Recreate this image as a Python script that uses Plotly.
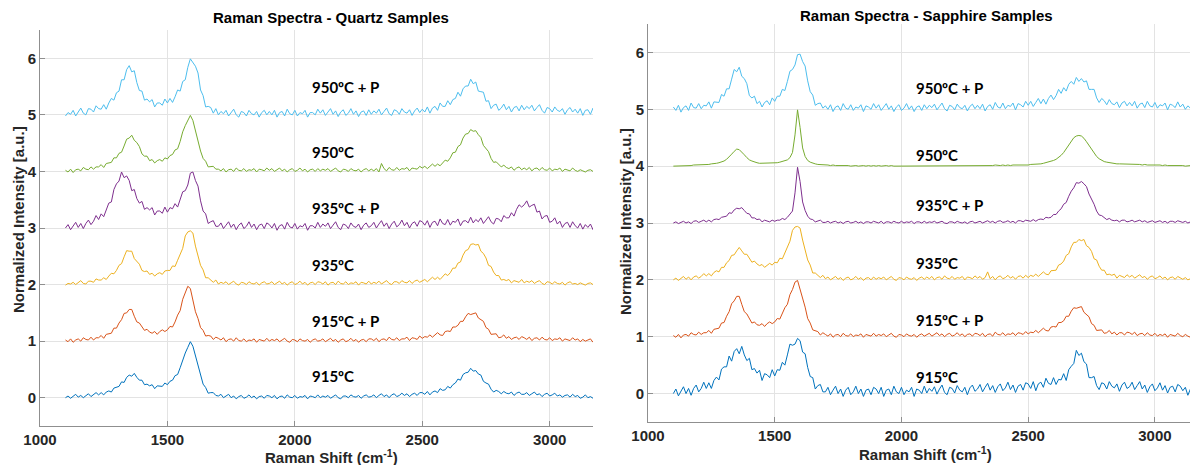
import plotly.graph_objects as go

# ---------------- data ----------------
raman_shift = [
    1100, 1110, 1120, 1130, 1140, 1150, 1160, 1170, 1180, 1190, 1200, 1210, 1220, 1230, 1240, 1250, 1260, 1270, 1280, 1290,
    1300, 1310, 1320, 1330, 1340, 1350, 1360, 1370, 1380, 1390, 1400, 1410, 1420, 1430, 1440, 1450, 1460, 1470, 1480, 1490,
    1500, 1510, 1520, 1530, 1540, 1550, 1560, 1570, 1580, 1590, 1600, 1610, 1620, 1630, 1640, 1650, 1660, 1670, 1680, 1690,
    1700, 1710, 1720, 1730, 1740, 1750, 1760, 1770, 1780, 1790, 1800, 1810, 1820, 1830, 1840, 1850, 1860, 1870, 1880, 1890,
    1900, 1910, 1920, 1930, 1940, 1950, 1960, 1970, 1980, 1990, 2000, 2010, 2020, 2030, 2040, 2050, 2060, 2070, 2080, 2090,
    2100, 2110, 2120, 2130, 2140, 2150, 2160, 2170, 2180, 2190, 2200, 2210, 2220, 2230, 2240, 2250, 2260, 2270, 2280, 2290,
    2300, 2310, 2320, 2330, 2340, 2350, 2360, 2370, 2380, 2390, 2400, 2410, 2420, 2430, 2440, 2450, 2460, 2470, 2480, 2490,
    2500, 2510, 2520, 2530, 2540, 2550, 2560, 2570, 2580, 2590, 2600, 2610, 2620, 2630, 2640, 2650, 2660, 2670, 2680, 2690,
    2700, 2710, 2720, 2730, 2740, 2750, 2760, 2770, 2780, 2790, 2800, 2810, 2820, 2830, 2840, 2850, 2860, 2870, 2880, 2890,
    2900, 2910, 2920, 2930, 2940, 2950, 2960, 2970, 2980, 2990, 3000, 3010, 3020, 3030, 3040, 3050, 3060, 3070, 3080, 3090,
    3100, 3110, 3120, 3130, 3140, 3150, 3160, 3170, 3180]

sample_labels = ["915ºC", "915ºC + P", "935ºC", "935ºC + P", "950ºC", "950ºC + P"]
offsets = [0, 1, 2, 3, 4, 5]

quartz_915 = [
    0.00, 0.03, -0.01, 0.02, 0.06, 0.01, 0.04, 0.00, 0.04, 0.07, 0.02, 0.05, 0.09, 0.05, 0.09, 0.05, 0.10, 0.12, 0.10, 0.17,
    0.19, 0.20, 0.28, 0.27, 0.36, 0.40, 0.38, 0.43, 0.36, 0.31, 0.31, 0.23, 0.24, 0.21, 0.23, 0.16, 0.21, 0.21, 0.20, 0.26,
    0.23, 0.29, 0.31, 0.39, 0.41, 0.53, 0.68, 0.79, 0.89, 0.99, 0.91, 0.73, 0.58, 0.38, 0.24, 0.18, 0.08, 0.09, 0.09, 0.04,
    0.03, 0.06, 0.00, 0.03, 0.06, 0.00, 0.03, -0.02, 0.02, 0.04, -0.01, 0.01, 0.05, 0.00, 0.03, -0.02, 0.02, 0.03, -0.01, 0.04,
    0.03, 0.00, 0.04, -0.02, 0.02, 0.03, -0.01, 0.05, 0.01, 0.00, 0.04, -0.01, 0.02, 0.01, 0.04, -0.02, 0.03, 0.02, 0.00, 0.05,
    0.00, 0.03, 0.01, 0.04, -0.01, 0.02, 0.05, 0.00, -0.02, 0.03, 0.03, 0.00, 0.05, 0.02, 0.01, 0.04, -0.01, 0.03, 0.05, 0.01,
    0.02, 0.05, 0.00, 0.04, 0.07, 0.02, 0.05, 0.00, 0.05, 0.07, 0.02, 0.04, 0.08, 0.04, 0.07, 0.02, 0.06, 0.08, 0.04, 0.09,
    0.09, 0.06, 0.11, 0.05, 0.10, 0.12, 0.09, 0.16, 0.13, 0.14, 0.20, 0.17, 0.23, 0.26, 0.33, 0.31, 0.41, 0.44, 0.45, 0.52,
    0.47, 0.48, 0.42, 0.40, 0.29, 0.26, 0.24, 0.15, 0.10, 0.13, 0.11, 0.07, 0.11, 0.08, 0.07, 0.10, 0.04, 0.08, 0.10, 0.06,
    0.06, 0.09, 0.04, 0.07, 0.10, 0.05, 0.07, 0.02, 0.06, 0.08, 0.03, 0.05, 0.08, 0.03, 0.05, 0.01, 0.04, 0.05, 0.01, 0.06,
    0.02, 0.04, -0.01, 0.01, 0.05, 0.00, 0.02, -0.01, 0.01]
quartz_915p = [
    0.02, -0.01, 0.04, -0.02, 0.02, 0.04, 0.00, 0.06, 0.03, 0.02, 0.07, 0.02, 0.06, 0.06, 0.10, 0.05, 0.12, 0.13, 0.14, 0.23,
    0.23, 0.32, 0.38, 0.49, 0.50, 0.56, 0.56, 0.44, 0.34, 0.32, 0.26, 0.19, 0.21, 0.16, 0.14, 0.17, 0.12, 0.17, 0.20, 0.17,
    0.20, 0.26, 0.25, 0.34, 0.46, 0.54, 0.74, 0.85, 0.97, 0.93, 0.70, 0.52, 0.40, 0.24, 0.19, 0.09, 0.10, 0.09, 0.03, 0.07,
    0.05, 0.02, 0.06, -0.01, 0.03, 0.04, 0.00, 0.06, 0.01, 0.00, 0.04, -0.01, 0.02, 0.01, 0.04, -0.02, 0.03, 0.02, 0.00, 0.05,
    0.00, 0.03, 0.01, 0.04, -0.01, 0.02, 0.05, 0.00, -0.02, 0.03, 0.02, -0.01, 0.04, 0.01, 0.00, 0.03, -0.02, 0.02, 0.04, 0.00,
    0.01, 0.04, -0.01, 0.02, 0.05, 0.00, 0.03, -0.02, 0.02, 0.04, -0.01, 0.01, 0.05, 0.00, 0.03, -0.02, 0.02, 0.03, -0.01, 0.04,
    0.04, 0.01, 0.05, -0.01, 0.03, 0.04, 0.01, 0.07, 0.03, 0.02, 0.06, 0.01, 0.04, 0.04, 0.07, 0.01, 0.06, 0.05, 0.03, 0.09,
    0.05, 0.08, 0.07, 0.11, 0.07, 0.11, 0.15, 0.11, 0.10, 0.17, 0.18, 0.17, 0.25, 0.25, 0.28, 0.35, 0.35, 0.43, 0.49, 0.47,
    0.49, 0.50, 0.41, 0.38, 0.35, 0.24, 0.21, 0.12, 0.13, 0.13, 0.06, 0.07, 0.11, 0.05, 0.08, 0.03, 0.06, 0.07, 0.03, 0.08,
    0.06, 0.03, 0.07, 0.01, 0.05, 0.06, 0.02, 0.07, 0.03, 0.02, 0.06, 0.01, 0.04, 0.03, 0.06, 0.00, 0.04, 0.03, 0.01, 0.06,
    0.02, 0.04, -0.01, 0.03, 0.00, 0.02, 0.04, -0.02, 0.01]
quartz_935 = [
    -0.01, 0.02, 0.01, 0.04, 0.00, 0.03, 0.07, 0.02, 0.01, 0.06, 0.06, 0.04, 0.10, 0.08, 0.08, 0.12, 0.09, 0.15, 0.20, 0.19,
    0.25, 0.34, 0.37, 0.49, 0.60, 0.59, 0.59, 0.46, 0.41, 0.36, 0.25, 0.23, 0.24, 0.18, 0.20, 0.15, 0.19, 0.21, 0.18, 0.24,
    0.25, 0.25, 0.33, 0.32, 0.43, 0.54, 0.64, 0.86, 0.93, 0.95, 0.91, 0.68, 0.51, 0.34, 0.26, 0.12, 0.12, 0.08, 0.04, 0.08,
    0.01, 0.04, 0.02, 0.05, 0.00, 0.03, 0.06, 0.01, -0.01, 0.04, 0.03, 0.00, 0.05, 0.02, 0.01, 0.04, -0.01, 0.03, 0.05, 0.01,
    0.02, 0.05, 0.00, 0.03, 0.06, 0.01, 0.04, -0.01, 0.03, 0.05, 0.00, 0.02, 0.06, 0.01, 0.04, -0.01, 0.03, 0.04, 0.00, 0.05,
    0.04, 0.01, 0.05, -0.01, 0.03, 0.04, 0.00, 0.06, 0.02, 0.01, 0.05, 0.00, 0.03, 0.02, 0.05, -0.01, 0.04, 0.03, 0.01, 0.06,
    0.01, 0.04, 0.02, 0.06, 0.01, 0.04, 0.07, 0.02, 0.00, 0.05, 0.05, 0.02, 0.07, 0.04, 0.03, 0.07, 0.02, 0.06, 0.08, 0.04,
    0.06, 0.09, 0.05, 0.09, 0.13, 0.09, 0.13, 0.09, 0.15, 0.19, 0.16, 0.21, 0.29, 0.29, 0.38, 0.40, 0.52, 0.60, 0.62, 0.71,
    0.72, 0.70, 0.71, 0.59, 0.55, 0.47, 0.34, 0.32, 0.22, 0.16, 0.16, 0.08, 0.09, 0.07, 0.09, 0.03, 0.07, 0.06, 0.04, 0.09,
    0.03, 0.06, 0.04, 0.07, 0.02, 0.05, 0.07, 0.02, 0.00, 0.05, 0.04, 0.01, 0.05, 0.02, 0.01, 0.04, -0.01, 0.03, 0.05, 0.01,
    0.02, 0.00, 0.03, 0.01, -0.01, 0.02, 0.03, 0.00, 0.01]
quartz_935p = [
    0.00, 0.06, -0.03, 0.03, 0.10, 0.01, 0.08, -0.01, 0.08, 0.14, 0.06, 0.12, 0.22, 0.15, 0.25, 0.20, 0.34, 0.44, 0.46, 0.68,
    0.78, 0.83, 0.99, 0.89, 0.92, 0.84, 0.66, 0.68, 0.52, 0.44, 0.47, 0.33, 0.36, 0.32, 0.36, 0.23, 0.30, 0.30, 0.26, 0.37,
    0.28, 0.36, 0.34, 0.43, 0.37, 0.49, 0.64, 0.66, 0.76, 0.97, 0.99, 0.84, 0.74, 0.48, 0.30, 0.25, 0.08, 0.11, 0.13, 0.03,
    0.03, 0.09, -0.01, 0.05, 0.11, 0.01, 0.07, -0.03, 0.05, 0.09, -0.01, 0.03, 0.11, 0.01, 0.07, -0.03, 0.05, 0.07, -0.01, 0.09,
    0.06, 0.00, 0.08, -0.04, 0.04, 0.06, -0.02, 0.10, 0.02, 0.00, 0.08, -0.02, 0.04, 0.02, 0.08, -0.04, 0.04, 0.04, 0.00, 0.10,
    0.01, 0.07, 0.03, 0.09, -0.01, 0.05, 0.11, 0.01, -0.03, 0.07, 0.05, -0.01, 0.09, 0.03, 0.01, 0.07, -0.03, 0.05, 0.09, 0.01,
    0.04, 0.10, 0.00, 0.07, 0.13, 0.03, 0.09, -0.01, 0.07, 0.12, 0.02, 0.06, 0.14, 0.04, 0.10, 0.00, 0.08, 0.11, 0.03, 0.13,
    0.11, 0.05, 0.13, 0.01, 0.10, 0.12, 0.04, 0.16, 0.08, 0.06, 0.15, 0.05, 0.12, 0.10, 0.16, 0.04, 0.12, 0.13, 0.09, 0.19,
    0.09, 0.15, 0.11, 0.18, 0.08, 0.14, 0.20, 0.11, 0.07, 0.17, 0.16, 0.11, 0.22, 0.18, 0.18, 0.27, 0.21, 0.33, 0.41, 0.37,
    0.41, 0.48, 0.37, 0.40, 0.42, 0.28, 0.30, 0.16, 0.21, 0.22, 0.10, 0.12, 0.18, 0.07, 0.12, 0.01, 0.08, 0.10, 0.01, 0.11,
    0.04, 0.00, 0.08, -0.02, 0.06, 0.01, 0.07, -0.03, 0.03]
quartz_950 = [
    0.02, -0.01, 0.04, -0.02, 0.03, 0.04, 0.01, 0.07, 0.04, 0.03, 0.08, 0.04, 0.08, 0.08, 0.12, 0.07, 0.14, 0.15, 0.16, 0.24,
    0.24, 0.32, 0.34, 0.45, 0.57, 0.59, 0.64, 0.55, 0.51, 0.44, 0.31, 0.27, 0.27, 0.19, 0.21, 0.15, 0.19, 0.21, 0.18, 0.24,
    0.22, 0.28, 0.30, 0.38, 0.40, 0.53, 0.70, 0.81, 0.90, 0.99, 0.90, 0.70, 0.55, 0.36, 0.23, 0.18, 0.08, 0.09, 0.09, 0.04,
    0.04, 0.01, 0.05, -0.01, 0.03, 0.04, 0.00, 0.06, 0.02, 0.01, 0.05, 0.00, 0.03, 0.02, 0.05, -0.01, 0.04, 0.03, 0.01, 0.06,
    0.02, 0.05, 0.00, 0.03, 0.06, 0.01, 0.04, -0.01, 0.03, 0.05, 0.00, 0.02, 0.06, 0.01, 0.04, -0.01, 0.03, 0.04, 0.00, 0.05,
    0.01, 0.04, 0.02, 0.05, 0.00, 0.03, 0.06, 0.01, -0.01, 0.04, 0.03, 0.00, 0.05, 0.02, 0.01, 0.04, -0.01, 0.03, 0.05, 0.01,
    0.04, 0.01, 0.05, -0.01, 0.14, 0.05, 0.01, 0.07, 0.03, 0.02, 0.07, 0.02, 0.05, 0.04, 0.07, 0.01, 0.06, 0.05, 0.04, 0.09,
    0.06, 0.09, 0.05, 0.09, 0.13, 0.09, 0.13, 0.10, 0.16, 0.20, 0.18, 0.24, 0.33, 0.34, 0.44, 0.47, 0.59, 0.66, 0.67, 0.74,
    0.71, 0.72, 0.65, 0.60, 0.46, 0.40, 0.35, 0.23, 0.16, 0.17, 0.13, 0.08, 0.11, 0.07, 0.05, 0.08, 0.02, 0.06, 0.08, 0.03,
    0.06, 0.03, 0.07, 0.01, 0.05, 0.06, 0.02, 0.07, 0.03, 0.02, 0.06, 0.01, 0.04, 0.03, 0.06, 0.00, 0.04, 0.03, 0.01, 0.06,
    0.02, 0.00, 0.03, 0.01, -0.01, 0.02, 0.03, 0.00, 0.01]
quartz_950p = [
    -0.02, 0.04, 0.01, 0.08, -0.02, 0.05, 0.12, 0.03, 0.00, 0.11, 0.10, 0.05, 0.16, 0.11, 0.10, 0.18, 0.10, 0.21, 0.29, 0.26,
    0.39, 0.42, 0.62, 0.62, 0.80, 0.87, 0.76, 0.78, 0.57, 0.43, 0.42, 0.26, 0.28, 0.23, 0.27, 0.14, 0.21, 0.21, 0.17, 0.28,
    0.21, 0.29, 0.22, 0.32, 0.44, 0.42, 0.59, 0.62, 0.84, 0.99, 0.92, 0.86, 0.74, 0.44, 0.34, 0.14, 0.15, 0.13, 0.03, 0.11,
    0.00, 0.06, 0.02, 0.08, -0.02, 0.04, 0.10, 0.00, -0.04, 0.06, 0.04, -0.02, 0.08, 0.02, 0.00, 0.06, -0.04, 0.04, 0.08, 0.00,
    0.06, 0.00, 0.08, -0.04, 0.04, 0.06, -0.02, 0.10, 0.02, 0.00, 0.08, -0.02, 0.04, 0.02, 0.08, -0.04, 0.04, 0.04, 0.00, 0.10,
    0.03, 0.09, -0.01, 0.05, 0.11, 0.01, 0.07, -0.03, 0.05, 0.09, -0.01, 0.03, 0.11, 0.01, 0.07, -0.03, 0.05, 0.07, -0.01, 0.09,
    0.01, 0.07, 0.03, 0.10, 0.00, 0.06, 0.12, 0.02, -0.01, 0.09, 0.07, 0.01, 0.11, 0.05, 0.03, 0.09, -0.01, 0.07, 0.12, 0.04,
    0.10, 0.05, 0.14, 0.03, 0.12, 0.15, 0.08, 0.21, 0.15, 0.15, 0.25, 0.18, 0.27, 0.29, 0.40, 0.33, 0.46, 0.51, 0.51, 0.63,
    0.55, 0.58, 0.42, 0.41, 0.40, 0.24, 0.25, 0.11, 0.17, 0.19, 0.08, 0.12, 0.19, 0.09, 0.15, 0.05, 0.13, 0.15, 0.07, 0.17,
    0.09, 0.15, 0.11, 0.17, 0.07, 0.13, 0.18, 0.08, 0.03, 0.13, 0.11, 0.05, 0.14, 0.08, 0.06, 0.11, 0.01, 0.09, 0.13, 0.05,
    0.10, 0.03, 0.11, -0.01, 0.08, 0.09, 0.01, 0.12, 0.05]

sapphire_915 = [
    0.00, 0.08, -0.04, 0.04, 0.12, 0.00, 0.09, -0.03, 0.09, 0.15, 0.03, 0.09, 0.20, 0.09, 0.19, 0.09, 0.23, 0.29, 0.24, 0.43,
    0.47, 0.47, 0.66, 0.57, 0.74, 0.79, 0.70, 0.83, 0.68, 0.58, 0.62, 0.42, 0.44, 0.36, 0.41, 0.23, 0.35, 0.33, 0.28, 0.42,
    0.31, 0.42, 0.41, 0.55, 0.50, 0.68, 0.87, 0.85, 0.87, 0.97, 0.93, 0.73, 0.70, 0.46, 0.30, 0.28, 0.08, 0.14, 0.16, 0.03,
    0.03, 0.11, -0.02, 0.06, 0.13, 0.00, 0.08, -0.05, 0.06, 0.11, -0.02, 0.03, 0.13, 0.00, 0.08, -0.05, 0.06, 0.08, -0.02, 0.11,
    0.08, 0.00, 0.11, -0.05, 0.06, 0.08, -0.02, 0.13, 0.03, 0.00, 0.11, -0.02, 0.06, 0.03, 0.11, -0.05, 0.08, 0.06, 0.00, 0.13,
    0.01, 0.09, 0.04, 0.12, -0.01, 0.08, 0.15, 0.02, -0.02, 0.11, 0.09, 0.01, 0.14, 0.06, 0.03, 0.11, -0.02, 0.10, 0.15, 0.04,
    0.08, 0.16, 0.03, 0.11, 0.18, 0.06, 0.14, 0.02, 0.12, 0.17, 0.05, 0.10, 0.20, 0.07, 0.15, 0.02, 0.13, 0.16, 0.06, 0.19,
    0.17, 0.09, 0.21, 0.05, 0.17, 0.20, 0.11, 0.27, 0.18, 0.16, 0.28, 0.16, 0.25, 0.24, 0.35, 0.23, 0.42, 0.48, 0.53, 0.76,
    0.67, 0.71, 0.56, 0.52, 0.28, 0.28, 0.30, 0.14, 0.07, 0.19, 0.17, 0.08, 0.21, 0.13, 0.10, 0.17, 0.04, 0.15, 0.20, 0.09,
    0.12, 0.20, 0.07, 0.14, 0.21, 0.08, 0.15, 0.02, 0.12, 0.17, 0.05, 0.10, 0.19, 0.06, 0.14, 0.01, 0.11, 0.13, 0.03, 0.16,
    0.13, 0.05, 0.11, -0.03, 0.08, 0.09, -0.02, 0.10, 0.02]
sapphire_915p = [
    0.02, -0.01, 0.04, -0.02, 0.03, 0.04, 0.01, 0.07, 0.04, 0.03, 0.08, 0.04, 0.07, 0.07, 0.11, 0.06, 0.13, 0.14, 0.15, 0.24,
    0.25, 0.36, 0.44, 0.58, 0.63, 0.71, 0.71, 0.57, 0.44, 0.40, 0.32, 0.24, 0.26, 0.21, 0.20, 0.23, 0.18, 0.23, 0.26, 0.23,
    0.26, 0.32, 0.31, 0.40, 0.51, 0.57, 0.74, 0.83, 0.96, 0.99, 0.84, 0.67, 0.52, 0.32, 0.24, 0.12, 0.11, 0.09, 0.03, 0.07,
    0.04, 0.01, 0.05, -0.01, 0.03, 0.04, 0.00, 0.06, 0.02, 0.01, 0.05, 0.00, 0.03, 0.02, 0.05, -0.01, 0.04, 0.03, 0.01, 0.06,
    0.01, 0.04, 0.02, 0.05, 0.00, 0.03, 0.06, 0.01, -0.01, 0.04, 0.03, 0.00, 0.05, 0.02, 0.01, 0.04, -0.01, 0.03, 0.05, 0.01,
    0.03, 0.06, 0.01, 0.04, 0.07, 0.02, 0.05, 0.00, 0.04, 0.06, 0.01, 0.03, 0.07, 0.02, 0.05, 0.00, 0.04, 0.05, 0.01, 0.06,
    0.05, 0.02, 0.06, 0.00, 0.04, 0.05, 0.01, 0.08, 0.04, 0.03, 0.07, 0.02, 0.05, 0.04, 0.07, 0.02, 0.07, 0.06, 0.04, 0.09,
    0.05, 0.08, 0.07, 0.11, 0.07, 0.11, 0.15, 0.11, 0.10, 0.17, 0.18, 0.17, 0.25, 0.25, 0.28, 0.36, 0.36, 0.45, 0.51, 0.50,
    0.52, 0.53, 0.43, 0.39, 0.35, 0.23, 0.20, 0.11, 0.12, 0.12, 0.06, 0.07, 0.11, 0.05, 0.08, 0.03, 0.07, 0.07, 0.03, 0.08,
    0.07, 0.04, 0.08, 0.02, 0.05, 0.06, 0.02, 0.07, 0.03, 0.02, 0.06, 0.01, 0.04, 0.02, 0.05, -0.01, 0.04, 0.03, 0.01, 0.06,
    0.02, 0.00, 0.04, 0.01, -0.01, 0.02, 0.03, 0.00, 0.01]
sapphire_935 = [
    0.00, 0.03, -0.01, 0.02, 0.06, 0.01, 0.05, 0.00, 0.05, 0.07, 0.03, 0.06, 0.11, 0.07, 0.11, 0.07, 0.13, 0.16, 0.14, 0.22,
    0.22, 0.30, 0.34, 0.43, 0.44, 0.51, 0.57, 0.51, 0.45, 0.45, 0.39, 0.31, 0.33, 0.28, 0.25, 0.27, 0.22, 0.26, 0.29, 0.26,
    0.31, 0.30, 0.38, 0.37, 0.48, 0.59, 0.68, 0.87, 0.93, 0.94, 0.91, 0.70, 0.53, 0.35, 0.26, 0.12, 0.12, 0.08, 0.04, 0.08,
    0.02, 0.05, 0.00, 0.03, 0.06, 0.01, 0.04, -0.01, 0.03, 0.05, 0.00, 0.02, 0.06, 0.01, 0.04, -0.01, 0.03, 0.04, 0.00, 0.05,
    0.01, 0.04, 0.02, 0.05, 0.00, 0.03, 0.06, 0.01, -0.01, 0.04, 0.03, 0.00, 0.05, 0.02, 0.01, 0.04, -0.01, 0.03, 0.05, 0.01,
    0.05, 0.02, 0.06, 0.00, 0.04, 0.05, 0.01, 0.07, 0.03, 0.02, 0.06, 0.01, 0.04, 0.03, 0.06, 0.00, 0.05, 0.04, 0.02, 0.07,
    0.03, 0.06, 0.01, 0.04, 0.14, 0.02, 0.06, 0.00, 0.05, 0.07, 0.02, 0.04, 0.08, 0.03, 0.06, 0.01, 0.06, 0.07, 0.03, 0.08,
    0.04, 0.08, 0.06, 0.10, 0.06, 0.10, 0.14, 0.10, 0.09, 0.16, 0.17, 0.17, 0.26, 0.28, 0.33, 0.43, 0.46, 0.58, 0.66, 0.66,
    0.71, 0.69, 0.71, 0.60, 0.57, 0.50, 0.37, 0.35, 0.24, 0.17, 0.17, 0.09, 0.10, 0.08, 0.10, 0.03, 0.08, 0.06, 0.04, 0.09,
    0.05, 0.08, 0.03, 0.06, 0.09, 0.04, 0.06, 0.01, 0.05, 0.07, 0.02, 0.04, 0.07, 0.02, 0.05, 0.00, 0.04, 0.05, 0.01, 0.06,
    0.03, 0.01, 0.04, 0.00, 0.02, 0.04, 0.01, 0.03, 0.02]
sapphire_935p = [
    0.00, 0.02, -0.01, 0.01, 0.03, 0.00, 0.02, -0.01, 0.03, 0.04, 0.01, 0.03, 0.05, 0.02, 0.05, 0.02, 0.06, 0.07, 0.06, 0.10,
    0.11, 0.12, 0.18, 0.17, 0.23, 0.26, 0.25, 0.27, 0.22, 0.17, 0.16, 0.09, 0.09, 0.06, 0.07, 0.02, 0.05, 0.04, 0.02, 0.05,
    0.03, 0.05, 0.05, 0.08, 0.06, 0.10, 0.15, 0.21, 0.53, 0.98, 0.73, 0.37, 0.22, 0.12, 0.07, 0.06, 0.02, 0.04, 0.05, 0.01,
    0.01, 0.03, 0.00, 0.02, 0.03, 0.00, 0.02, -0.01, 0.02, 0.03, 0.00, 0.01, 0.03, 0.00, 0.02, -0.01, 0.02, 0.02, 0.00, 0.03,
    0.02, 0.00, 0.03, -0.01, 0.02, 0.02, 0.00, 0.03, 0.01, 0.00, 0.03, 0.00, 0.02, 0.01, 0.03, -0.01, 0.02, 0.02, 0.00, 0.03,
    0.00, 0.02, 0.01, 0.03, 0.00, 0.02, 0.03, 0.00, -0.01, 0.02, 0.02, 0.00, 0.03, 0.01, 0.00, 0.02, -0.01, 0.02, 0.03, 0.00,
    0.01, 0.03, 0.00, 0.02, 0.04, 0.01, 0.03, 0.00, 0.03, 0.04, 0.01, 0.02, 0.04, 0.01, 0.03, 0.00, 0.04, 0.04, 0.02, 0.05,
    0.04, 0.03, 0.06, 0.03, 0.06, 0.07, 0.06, 0.10, 0.09, 0.10, 0.15, 0.15, 0.21, 0.25, 0.33, 0.36, 0.47, 0.56, 0.62, 0.71,
    0.70, 0.73, 0.69, 0.64, 0.51, 0.42, 0.33, 0.21, 0.14, 0.13, 0.10, 0.06, 0.08, 0.05, 0.04, 0.05, 0.02, 0.05, 0.05, 0.02,
    0.03, 0.05, 0.02, 0.04, 0.05, 0.02, 0.04, 0.01, 0.03, 0.04, 0.01, 0.02, 0.04, 0.01, 0.03, 0.00, 0.03, 0.03, 0.01, 0.04,
    0.02, 0.01, 0.03, 0.00, 0.02, 0.02, 0.01, 0.03, 0.01]
sapphire_950 = [
    0.00, 0.00, 0.00, 0.01, 0.01, 0.01, 0.01, 0.01, 0.02, 0.02, 0.02, 0.02, 0.03, 0.03, 0.03, 0.04, 0.04, 0.05, 0.06, 0.07,
    0.09, 0.12, 0.16, 0.21, 0.26, 0.30, 0.29, 0.25, 0.20, 0.15, 0.11, 0.09, 0.07, 0.06, 0.05, 0.05, 0.05, 0.05, 0.05, 0.05,
    0.06, 0.06, 0.07, 0.08, 0.09, 0.11, 0.15, 0.24, 0.55, 0.99, 0.68, 0.32, 0.17, 0.10, 0.07, 0.05, 0.04, 0.03, 0.03, 0.02,
    0.02, 0.02, 0.01, 0.02, 0.01, 0.01, 0.02, 0.01, 0.01, 0.01, 0.00, 0.01, 0.01, 0.00, 0.01, 0.01, 0.00, 0.01, 0.00, 0.01,
    0.00, 0.01, 0.00, 0.01, 0.01, 0.00, 0.01, 0.00, 0.00, 0.01, 0.00, 0.01, 0.00, 0.00, 0.01, 0.00, 0.01, 0.00, 0.01, 0.00,
    0.01, 0.00, 0.01, 0.00, 0.01, 0.01, 0.00, 0.01, 0.00, 0.01, 0.00, 0.01, 0.01, 0.00, 0.01, 0.00, 0.01, 0.01, 0.00, 0.01,
    0.01, 0.00, 0.01, 0.01, 0.00, 0.01, 0.01, 0.02, 0.01, 0.01, 0.02, 0.01, 0.02, 0.01, 0.02, 0.02, 0.01, 0.02, 0.02, 0.02,
    0.02, 0.03, 0.03, 0.03, 0.04, 0.04, 0.05, 0.06, 0.07, 0.08, 0.10, 0.12, 0.15, 0.19, 0.24, 0.30, 0.37, 0.44, 0.50, 0.53,
    0.54, 0.53, 0.49, 0.43, 0.36, 0.29, 0.22, 0.17, 0.13, 0.10, 0.08, 0.07, 0.06, 0.05, 0.05, 0.04, 0.04, 0.04, 0.04, 0.03,
    0.03, 0.04, 0.03, 0.03, 0.03, 0.02, 0.03, 0.02, 0.02, 0.03, 0.02, 0.02, 0.02, 0.01, 0.02, 0.01, 0.01, 0.02, 0.01, 0.01,
    0.01, 0.01, 0.00, 0.01, 0.01, 0.00, 0.01, 0.00, 0.00]
sapphire_950p = [
    0.04, -0.02, 0.07, -0.05, 0.03, 0.06, -0.02, 0.11, 0.03, 0.02, 0.10, 0.01, 0.07, 0.06, 0.13, 0.02, 0.13, 0.13, 0.12, 0.26,
    0.23, 0.36, 0.36, 0.53, 0.70, 0.66, 0.74, 0.58, 0.54, 0.45, 0.24, 0.20, 0.23, 0.10, 0.14, 0.04, 0.12, 0.15, 0.08, 0.20,
    0.14, 0.23, 0.23, 0.35, 0.33, 0.49, 0.67, 0.70, 0.78, 0.96, 0.97, 0.84, 0.76, 0.50, 0.31, 0.25, 0.07, 0.10, 0.11, 0.02,
    0.06, 0.00, 0.08, -0.04, 0.04, 0.06, -0.02, 0.10, 0.02, 0.00, 0.08, -0.02, 0.04, 0.02, 0.08, -0.04, 0.06, 0.04, 0.00, 0.10,
    0.02, 0.08, -0.02, 0.04, 0.10, 0.00, 0.06, -0.04, 0.04, 0.08, -0.02, 0.02, 0.10, 0.00, 0.06, -0.04, 0.04, 0.06, -0.02, 0.08,
    0.01, 0.07, 0.03, 0.09, -0.01, 0.05, 0.11, 0.01, -0.03, 0.07, 0.05, -0.01, 0.09, 0.03, 0.01, 0.07, -0.03, 0.05, 0.09, 0.01,
    0.07, 0.01, 0.09, -0.03, 0.05, 0.08, 0.00, 0.12, 0.04, 0.02, 0.11, 0.01, 0.07, 0.05, 0.11, -0.01, 0.10, 0.08, 0.04, 0.14,
    0.07, 0.14, 0.05, 0.12, 0.19, 0.10, 0.18, 0.09, 0.19, 0.25, 0.17, 0.24, 0.35, 0.28, 0.38, 0.32, 0.44, 0.49, 0.44, 0.56,
    0.49, 0.54, 0.48, 0.50, 0.35, 0.35, 0.35, 0.20, 0.12, 0.19, 0.15, 0.08, 0.17, 0.10, 0.08, 0.13, 0.03, 0.11, 0.14, 0.06,
    0.12, 0.06, 0.14, 0.02, 0.09, 0.11, 0.03, 0.14, 0.06, 0.04, 0.12, 0.02, 0.08, 0.06, 0.11, -0.01, 0.09, 0.07, 0.03, 0.13,
    0.04, 0.09, 0.00, 0.06, 0.02, 0.07, -0.01, 0.05, 0.02]

quartz_series = [quartz_915, quartz_915p, quartz_935, quartz_935p, quartz_950, quartz_950p]
sapphire_series = [sapphire_915, sapphire_915p, sapphire_935, sapphire_935p, sapphire_950, sapphire_950p]

# label anchor positions (data coords)
quartz_label_y = [0.39, 1.35, 2.35, 3.36, 4.35, 5.49]
sapphire_label_y = [0.30, 1.30, 2.30, 3.32, 4.19, 5.37]
quartz_label_x = 2060
sapphire_label_x = 2051

x_ticks = [1000, 1500, 2000, 2500, 3000]
y_ticks = [0, 1, 2, 3, 4, 5, 6]

colors = ["#0072BD", "#D95319", "#EDB120", "#7E2F8E", "#77AC30", "#4DBEEE"]

for k, s in enumerate(quartz_series + sapphire_series):
    assert len(s) == len(raman_shift), (k, len(s), len(raman_shift))

# ---------------- figure ----------------
fig = go.Figure()
for i, s in enumerate(quartz_series):
    fig.add_trace(go.Scatter(x=raman_shift, y=[v + offsets[i] for v in s], mode="lines",
                             line=dict(color=colors[i], width=1), xaxis="x", yaxis="y",
                             name=sample_labels[i], showlegend=False))
for i, s in enumerate(sapphire_series):
    fig.add_trace(go.Scatter(x=raman_shift, y=[v + offsets[i] for v in s], mode="lines",
                             line=dict(color=colors[i], width=1), xaxis="x2", yaxis="y2",
                             name=sample_labels[i], showlegend=False))

# page body has an 8px margin: figure sits at (8, 8) in the window
OFF = 8
SCREEN_W, SCREEN_H = 1198, 465
W, H = SCREEN_W - OFF, SCREEN_H - OFF
ml, mr, mt, mb = 40 - OFF, 0, 24 - OFF, 39
pw, ph = W - ml - mr, H - mt - mb


def px(xs):
    return (xs - OFF - ml) / pw


def py(ys):
    return (SCREEN_H - mb - ys) / ph


tickfont = dict(family="Liberation Sans, Arial, sans-serif", size=15, color="#262626", weight="bold")
axis_common = dict(showline=True, linecolor="#8f8f8f", linewidth=1, ticks="inside", ticklen=5,
                   tickcolor="#8f8f8f", showgrid=True, gridcolor="#e3e3e3", gridwidth=1,
                   zeroline=False, tickfont=tickfont, mirror=False)

fig.update_layout(
    width=W, height=H,
    margin=dict(l=ml, r=mr, t=mt, b=mb),
    plot_bgcolor="white", paper_bgcolor="white",
    xaxis=dict(domain=[0, px(593)], range=[1000, 3170], tickvals=x_ticks, anchor="y", **axis_common),
    yaxis=dict(domain=[0, py(30)], range=[-0.5, 6.5], tickvals=y_ticks, anchor="x", **axis_common),
    xaxis2=dict(domain=[px(648), 1], range=[1000, 3170], tickvals=x_ticks, anchor="y2", **axis_common),
    yaxis2=dict(domain=[py(422), 1], range=[-0.5, 6.5], tickvals=y_ticks, anchor="x2", **axis_common),
)

ann = []
titlefont = dict(family="Liberation Sans, Arial, sans-serif", size=15, color="#000000", weight="bold")
labfont = dict(family="Liberation Sans, Arial, sans-serif", size=15, color="#262626", weight="bold")
ann.append(dict(text="Raman Spectra - Quartz Samples", x=px(331), y=py(18), xref="paper", yref="paper",
                showarrow=False, font=titlefont, xanchor="center", yanchor="middle"))
ann.append(dict(text="Raman Spectra - Sapphire Samples", x=px(926), y=py(15), xref="paper", yref="paper",
                showarrow=False, font=titlefont, xanchor="center", yanchor="middle"))
ann.append(dict(text="Raman Shift (cm<sup>-1</sup>)", x=px(331), y=py(456), xref="paper", yref="paper",
                showarrow=False, font=labfont, xanchor="center", yanchor="middle"))
ann.append(dict(text="Raman Shift (cm<sup>-1</sup>)", x=px(925), y=py(453), xref="paper", yref="paper",
                showarrow=False, font=labfont, xanchor="center", yanchor="middle"))
ann.append(dict(text="Normalized Intensity [a.u.]", x=px(18), y=py(220), xref="paper", yref="paper",
                showarrow=False, font=labfont, textangle=-90, xanchor="center", yanchor="middle"))
ann.append(dict(text="Normalized Intensity [a.u.]", x=px(625), y=py(222), xref="paper", yref="paper",
                showarrow=False, font=labfont, textangle=-90, xanchor="center", yanchor="middle"))

samplefont = dict(family="Lato, Carlito, sans-serif", size=15, color="#000000", weight="bold")
for i, lab in enumerate(sample_labels):
    ann.append(dict(text=lab, x=quartz_label_x, y=quartz_label_y[i], xref="x", yref="y",
                    showarrow=False, font=samplefont, xanchor="left", yanchor="middle"))
    ann.append(dict(text=lab, x=sapphire_label_x, y=sapphire_label_y[i], xref="x2", yref="y2",
                    showarrow=False, font=samplefont, xanchor="left", yanchor="middle"))

fig.update_layout(annotations=ann)
fig.write_html("out.html")
